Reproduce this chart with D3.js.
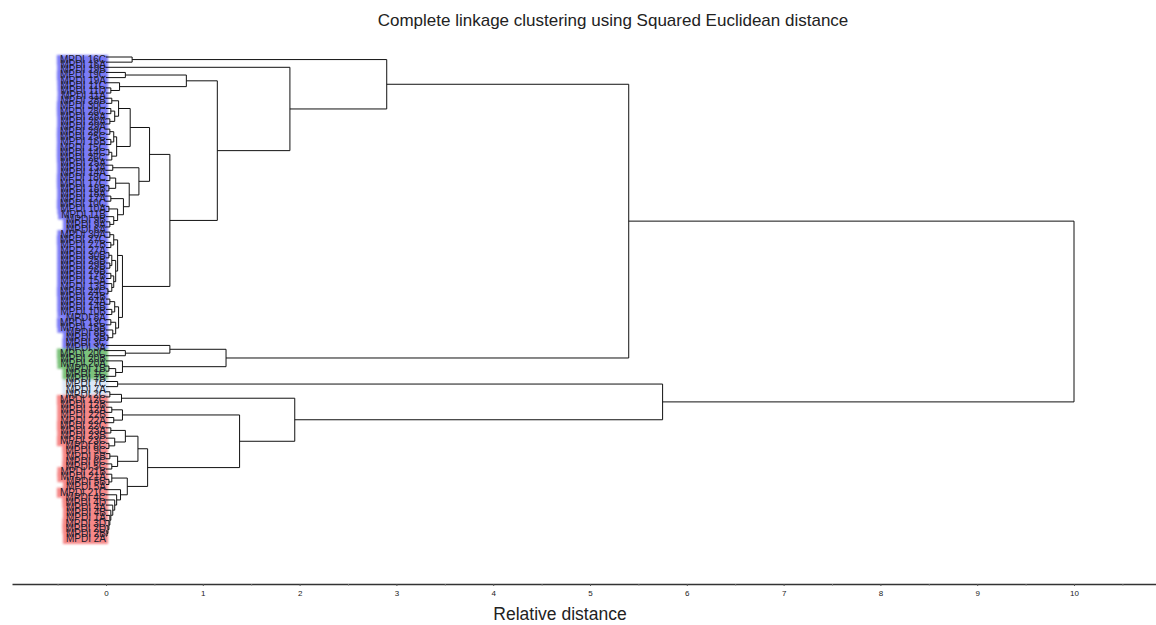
<!DOCTYPE html>
<html>
<head>
<meta charset="utf-8">
<script src="https://cdn.jsdelivr.net/npm/d3@7"></script>
<style>
  body { margin: 0; background: #fff; }
  svg { font-family: "Liberation Sans", Arial, sans-serif; }
</style>
</head>
<body>
<script>
// leaf labels, top to bottom
const leafLabels = [
  "MPDI 16C","MPDI 16A","MPDI 19B","MPDI 19C","MPDI 19A","MPDI 11C","MPDI 11D","MPDI 11A",
  "MPDI 28B","MPDI 30C","MPDI 28C","MPDI 28A","MPDI 26A","MPDI 29A","MPDI 29C","MPDI 25C",
  "MPDI 16B","MPDI 15C","MPDI 14C","MPDI 26C","MPDI 25A","MPDI 13A","MPDI 14A","MPDI 18C",
  "MPDI 17C","MPDI 18B","MPDI 18A","MPDI 17A","MPDI 10C","MPDI 10A","MPDI 11B","MPDI 9B",
  "MPDI 9A","MPDI 6A","MPDI 30A","MPDI 27C","MPDI 27B","MPDI 27A","MPDI 30B","MPDI 25B",
  "MPDI 29B","MPDI 26B","MPDI 17B","MPDI 15A","MPDI 13B","MPDI 24C","MPDI 24B","MPDI 24A",
  "MPDI 14B","MPDI 10B","MPDI 8A","MPDI 13C","MPDI 15B","MPDI 8B","MPDI 3B","MPDI 3C",
  "MPDI 3A",
  "MPDI 20C","MPDI 20B","MPDI 20A","MPDI 1B","MPDI 1C","MPDI 7B",
  "MPDI 7C","MPDI 7A","MPDI 2C",
  "MPDI 12C","MPDI 12B","MPDI 12A","MPDI 22B","MPDI 22A","MPDI 22C","MPDI 23A","MPDI 23B",
  "MPDI 23C","MPDI 8C","MPDI 9C","MPDI 6B","MPDI 6C","MPDI 5C","MPDI 21B","MPDI 21A",
  "MPDI 5B","MPDI 5A","MPDI 21C","MPDI 4C","MPDI 4D","MPDI 4A","MPDI 4B","MPDI 1A",
  "MPDI 3D","MPDI 2D","MPDI 2B","MPDI 2A"
];

// highlight colour runs along the leaf list
const groupRuns = [["blue", 57], ["green", 6], ["light", 3], ["red", 28]];
const groupColors = { blue: "#7b7bf6", green: "#7cc27c", light: "#dbe7f6", red: "#f58888" };

// merges: [distance, upper child, lower child]; numbers are leaf indices
const upperTop = [0.25,
  [0.13, [0.06, 8, 9], [0.09, [0.05, 10, 11], [0.04, 12, 13]]],
  [0.11, [0.08, [0.04, 14, 15], [0.05, 16, 17]], [0.06, [0.03, 18, 19], 20]]];
const upperMid = [0.34, [0.07, 21, 22],
  [0.24, [0.1, [0.04, 23, 24], [0.03, 25, 26]],
    [0.18, [0.05, 27, 28], [0.12, [0.03, 29, 30], [0.08, 31, [0.04, 32, 33]]]]]];
const upperLow = [0.17,
  [0.12, [0.08, [0.04, 34, 35], [0.05, 36, 37]],
    [0.1, [0.06, [0.03, 38, 39], [0.04, 40, 41]], [0.08, [0.05, 42, 43], [0.06, 44, [0.02, 45, 46]]]]],
  [0.13, [0.09, [0.04, 47, 48], [0.06, 49, 50]], [0.1, [0.05, 51, 52], [0.07, 53, [0.02, 54, 55]]]]];
const smallTop = [0.83, [0.2, 3, 4], [0.14, 5, [0.05, 6, 7]]];
const greenPart = [1.24, [0.66, 56, [0.2, 57, 58]], [0.17, 59, [0.1, [0.03, 60, 61], 62]]];
const redPart = [1.95, [0.16, [0.04, 65, 66], 67],
  [1.38, [0.17, [0.06, 68, 69], [0.08, 70, 71]],
    [0.43,
      [0.33, [0.2, [0.05, 72, 73], [0.09, 74, [0.03, 75, 76]]], [0.12, [0.04, 77, 78], [0.06, 79, 80]]],
      [0.22, [0.06, 81, [0.03, 82, 83]],
        [0.15, 84, [0.11, 85, [0.09, 86, [0.07, 87, [0.05, 88,
          [0.04, 89, [0.03, 90, [0.02, 91, [0.01, 92, 93]]]]]]]]]]]]];

const tree = [10.0,
  [5.4,
    [2.9, [0.27, 0, 1], [1.9, 2, [1.15, smallTop, [0.66, [0.45, upperTop, upperMid], upperLow]]]],
    greenPart],
  [5.75, [0.12, 63, 64], redPart]];

const axisTicks = [0, 1, 2, 3, 4, 5, 6, 7, 8, 9, 10];

const W = 1156, H = 625;
const svg = d3.select("body").append("svg").attr("width", W).attr("height", H);

const leafGroup = [];
groupRuns.forEach(([g, n]) => { for (let i = 0; i < n; i++) leafGroup.push(g); });

let x = d3.scaleLinear().domain([0, 10]).range([106, 1074]);
let y = d3.scaleLinear().domain([0, 91]).range([57, 525.7]);

let root = d3.hierarchy(tree, d => Array.isArray(d) ? d.slice(1) : null);
root.eachAfter(n => {
  if (!n.children) { n.h = 0; n.py = y(n.data); }
  else { n.h = n.data[0]; n.py = d3.mean(n.children, c => c.py); }
});

// blur for label highlights
svg.append("defs").append("filter").attr("id", "glow")
   .attr("x", "-20%").attr("y", "-50%").attr("width", "140%").attr("height", "200%")
   .append("feGaussianBlur").attr("stdDeviation", 1.3);

let hl = svg.append("g").attr("filter", "url(#glow)");
let labels = svg.append("g");

root.leaves().forEach(n => {
  let t = labels.append("text")
      .attr("x", x(0))
      .attr("y", n.py + 6)
      .attr("text-anchor", "end")
      .attr("font-size", 10)
      .attr("fill", "#1c1c2c")
      .text(leafLabels[n.data]);
  let w = t.node().getComputedTextLength();
  hl.append("rect")
    .attr("x", x(0) - w - 3).attr("y", n.py - 2)
    .attr("width", w + 5).attr("height", 10)
    .attr("fill", groupColors[leafGroup[n.data]]);
});

// dendrogram links
svg.append("g").selectAll("path")
   .data(root.descendants().filter(n => n.children))
   .enter().append("path")
   .attr("fill", "none")
   .attr("stroke", "#111")
   .attr("stroke-width", 1)
   .attr("d", n => {
     let [a, b] = n.children;
     return "M" + x(a.h) + "," + a.py + "H" + x(n.h) + "V" + b.py + "H" + x(b.h);
   });

// axis
let xa = x.copy().domain([x.invert(12), x.invert(W)]).range([12, W]);
let ax = svg.append("g").attr("transform", "translate(0,584)")
   .call(d3.axisBottom(xa).tickValues(axisTicks).tickFormat(d3.format("d")).tickSizeInner(2).tickSizeOuter(0));
ax.select(".domain").attr("stroke", "#333").attr("stroke-width", 1.6);
ax.selectAll(".tick line").attr("stroke", "#555");
ax.selectAll(".tick text").attr("font-size", 8).attr("fill", "#222").attr("dy", "0.9em");
svg.append("g").attr("transform", "translate(0,584)")
   .call(d3.axisBottom(xa).tickValues(d3.range(-0.5, 11, 1)).tickFormat("").tickSizeInner(1.5).tickSizeOuter(0))
   .call(g => g.select(".domain").remove())
   .selectAll(".tick line").attr("stroke", "#777");

svg.append("text")
   .attr("x", 613).attr("y", 26)
   .attr("text-anchor", "middle").attr("font-size", 17).attr("fill", "#222")
   .text("Complete linkage clustering using Squared Euclidean distance");

svg.append("text")
   .attr("x", 560).attr("y", 620)
   .attr("text-anchor", "middle").attr("font-size", 17.5).attr("fill", "#222")
   .text("Relative distance");
</script>
</body>
</html>
